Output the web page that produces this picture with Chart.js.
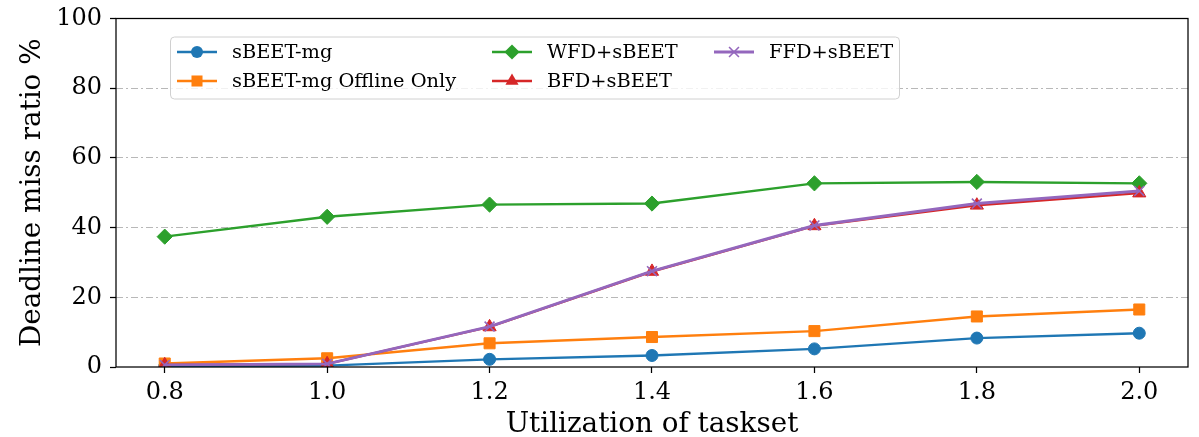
<!DOCTYPE html>
<html>
<head>
<meta charset="utf-8">
<script src="https://cdn.jsdelivr.net/npm/chart.js@4"></script>
<style>
  body { margin: 0; background: #fff; }
  canvas { display: block; }
</style>
</head>
<body>
<canvas id="myChart" width="1199" height="437"></canvas>
<script>
const utilization = [0.8, 1.0, 1.2, 1.4, 1.6, 1.8, 2.0];
const xTickLabels = ['0.8', '1.0', '1.2', '1.4', '1.6', '1.8', '2.0'];
const sbeetMg = [0.2, 0.4, 2.2, 3.3, 5.2, 8.3, 9.7];
const sbeetOffline = [1.0, 2.5, 6.8, 8.6, 10.3, 14.5, 16.5];
const wfdSbeet = [37.4, 43.1, 46.6, 46.9, 52.7, 53.1, 52.7];
const bfdSbeet = [0.6, 0.9, 11.5, 27.4, 40.5, 46.4, 49.9];
const ffdSbeet = [0.6, 0.9, 11.6, 27.5, 40.6, 46.9, 50.5];

const serif = "'DejaVu Serif', serif";
Chart.defaults.font.family = serif;
Chart.defaults.color = '#000';

const pts = arr => arr.map((v, i) => ({ x: utilization[i], y: v }));

function series(label, values, color, style, radius, order, extra) {
    return Object.assign({
        label: label,
        data: pts(values),
        borderColor: color,
        backgroundColor: color,
        pointBackgroundColor: color,
        pointBorderColor: color,
        pointStyle: style,
        pointRadius: radius,
        pointBorderWidth: 1,
        borderWidth: 2.4,
        order: order
    }, extra || {});
}

// draws a legend marker like the chart points
function marker(ctx, style, x, y, r, color, lw) {
    ctx.save();
    ctx.fillStyle = color;
    ctx.strokeStyle = color;
    ctx.lineWidth = lw;
    ctx.beginPath();
    if (style === 'circle') {
        ctx.arc(x, y, r, 0, Math.PI * 2);
        ctx.fill();
    } else if (style === 'rect') {
        const s = r * Math.SQRT1_2;
        ctx.rect(x - s, y - s, 2 * s, 2 * s);
        ctx.fill();
    } else if (style === 'rectRot') {
        ctx.moveTo(x, y - r); ctx.lineTo(x + r, y); ctx.lineTo(x, y + r); ctx.lineTo(x - r, y);
        ctx.closePath();
        ctx.fill();
    } else if (style === 'triangle') {
        for (let k = 0; k < 3; k++) {
            const a = k * 2 * Math.PI / 3;
            const px = x + Math.sin(a) * r, py = y - Math.cos(a) * r;
            if (k === 0) ctx.moveTo(px, py); else ctx.lineTo(px, py);
        }
        ctx.closePath();
        ctx.fill();
    } else if (style === 'crossRot') {
        const s = r * Math.SQRT1_2;
        ctx.moveTo(x - s, y - s); ctx.lineTo(x + s, y + s);
        ctx.moveTo(x + s, y - s); ctx.lineTo(x - s, y + s);
        ctx.stroke();
    }
    ctx.restore();
}

const frameAndLegend = {
    id: 'frameAndLegend',
    afterDatasetsDraw(chart) {
        const { ctx, chartArea: a } = chart;
        ctx.save();
        ctx.strokeStyle = '#000';
        ctx.lineWidth = 1.25;
        ctx.strokeRect(a.left, a.top, a.right - a.left, a.bottom - a.top);
        ctx.restore();
    },
    afterDraw(chart) {
        const ctx = chart.ctx;
        const box = { x: 170, y: 36.5, w: 729, h: 62 };
        ctx.save();
        ctx.beginPath();
        ctx.roundRect(box.x + 0.5, box.y + 0.5, box.w, box.h, 4);
        ctx.fillStyle = 'rgba(255,255,255,0.8)';
        ctx.fill();
        ctx.strokeStyle = '#d0d0d0';
        ctx.lineWidth = 1;
        ctx.stroke();

        // matplotlib column-major placement
        const cols = [177, 492, 714];
        const rows = [52, 81];
        ctx.font = '19.4px ' + serif;
        ctx.textBaseline = 'middle';
        ctx.fillStyle = '#000';
        chart.data.datasets.forEach((ds, i) => {
            const cx = cols[Math.floor(i / 2)];
            const cy = rows[i % 2];
            ctx.beginPath();
            ctx.strokeStyle = ds.borderColor;
            ctx.lineWidth = ds.borderWidth;
            ctx.moveTo(cx, cy);
            ctx.lineTo(cx + 40, cy);
            ctx.stroke();
            marker(ctx, ds.pointStyle, cx + 20, cy, ds.pointRadius, ds.borderColor,
                ds.pointStyle === 'crossRot' ? ds.pointBorderWidth : 1);
            ctx.fillStyle = '#000';
            ctx.fillText(ds.label, cx + 55, cy + 1);
        });
        ctx.restore();
    }
};

const ctx = document.getElementById('myChart').getContext('2d');
const myChart = new Chart(ctx, {
    type: 'line',
    data: {
        datasets: [
            series('sBEET-mg', sbeetMg, '#1f77b4', 'circle', 6, 5),
            series('sBEET-mg Offline Only', sbeetOffline, '#ff7f0e', 'rect', 7.8, 4),
            series('WFD+sBEET', wfdSbeet, '#2ca02c', 'rectRot', 7.6, 3),
            series('BFD+sBEET', bfdSbeet, '#d62728', 'triangle', 7.6, 2),
            series('FFD+sBEET', ffdSbeet, '#9467bd', 'crossRot', 7, 1, { borderWidth: 2.9, pointBorderWidth: 1.6 })
        ]
    },
    options: {
        responsive: false,
        animation: false,
        layout: { padding: { top: 18.5, right: 11, left: 0, bottom: 0 } },
        plugins: {
            legend: { display: false },
            tooltip: { enabled: false }
        },
        scales: {
            x: {
                type: 'linear',
                min: 0.74,
                max: 2.06,
                afterBuildTicks: scale => {
                    scale.ticks = utilization.map(v => ({ value: v }));
                },
                afterFit: scale => { scale.height = 70; },
                ticks: {
                    callback: (v, i) => xTickLabels[i],
                    font: { size: 24 },
                    padding: 5,
                    maxRotation: 0,
                    autoSkip: false
                },
                grid: {
                    drawOnChartArea: false,
                    tickLength: 6,
                    tickWidth: 1.25,
                    tickColor: '#000'
                },
                border: { display: false },
                title: {
                    display: true,
                    text: 'Utilization of taskset',
                    font: { size: 27.8, lineHeight: 0.85 },
                    padding: { top: 0, bottom: 0 }
                }
            },
            y: {
                min: 0,
                max: 100,
                afterFit: scale => {
                    scale.width = 116;
                    scale.paddingTop = 0;
                    scale.paddingBottom = 0;
                },
                ticks: {
                    stepSize: 20,
                    font: { size: 24 },
                    padding: 8
                },
                grid: {
                    color: c => (c.tick && (c.tick.value === 0 || c.tick.value === 100)) ? 'rgba(0,0,0,0)' : '#b8b8b8',
                    lineWidth: 1,
                    tickLength: 6,
                    tickWidth: 1.25,
                    tickColor: '#000'
                },
                border: { display: false, dash: [7, 3, 2, 3] },
                title: {
                    display: true,
                    text: 'Deadline miss ratio %',
                    font: { size: 27.8, lineHeight: 1.2 },
                    padding: { top: 16, bottom: 0 }
                }
            }
        }
    },
    plugins: [frameAndLegend]
});
</script>
</body>
</html>
